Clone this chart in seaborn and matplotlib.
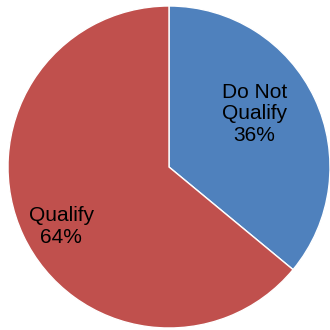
import matplotlib
matplotlib.use("Agg")
import matplotlib.pyplot as plt
import seaborn as sns

categories = ["Do Not\nQualify", "Qualify"]
values = [36, 64]
colors = ["#4F81BD", "#C0504D"]

sns.set_style("white")
plt.rcParams['font.family'] = ['Liberation Sans', 'DejaVu Sans']

fig = plt.figure(figsize=(3.3, 3.3), dpi=100)
ax = fig.add_axes([8/330, 2/330, 322/330, 322/330])
wedges, _ = ax.pie(values, colors=colors, startangle=90, counterclock=False,
                   radius=1.0, wedgeprops=dict(edgecolor="white", linewidth=1))
ax.set_xlim(-1, 1)
ax.set_ylim(-1, 1)
ax.set_aspect('equal')

label_pos = [(0.53, 0.33), (-0.67, -0.37)]
for cat, v, (x, y) in zip(categories, values, label_pos):
    ax.text(x, y, f"{cat}\n{v}%", ha="center", va="center", fontsize=15, color="black",
            linespacing=1.15)

fig.savefig("out.png", dpi=100)
